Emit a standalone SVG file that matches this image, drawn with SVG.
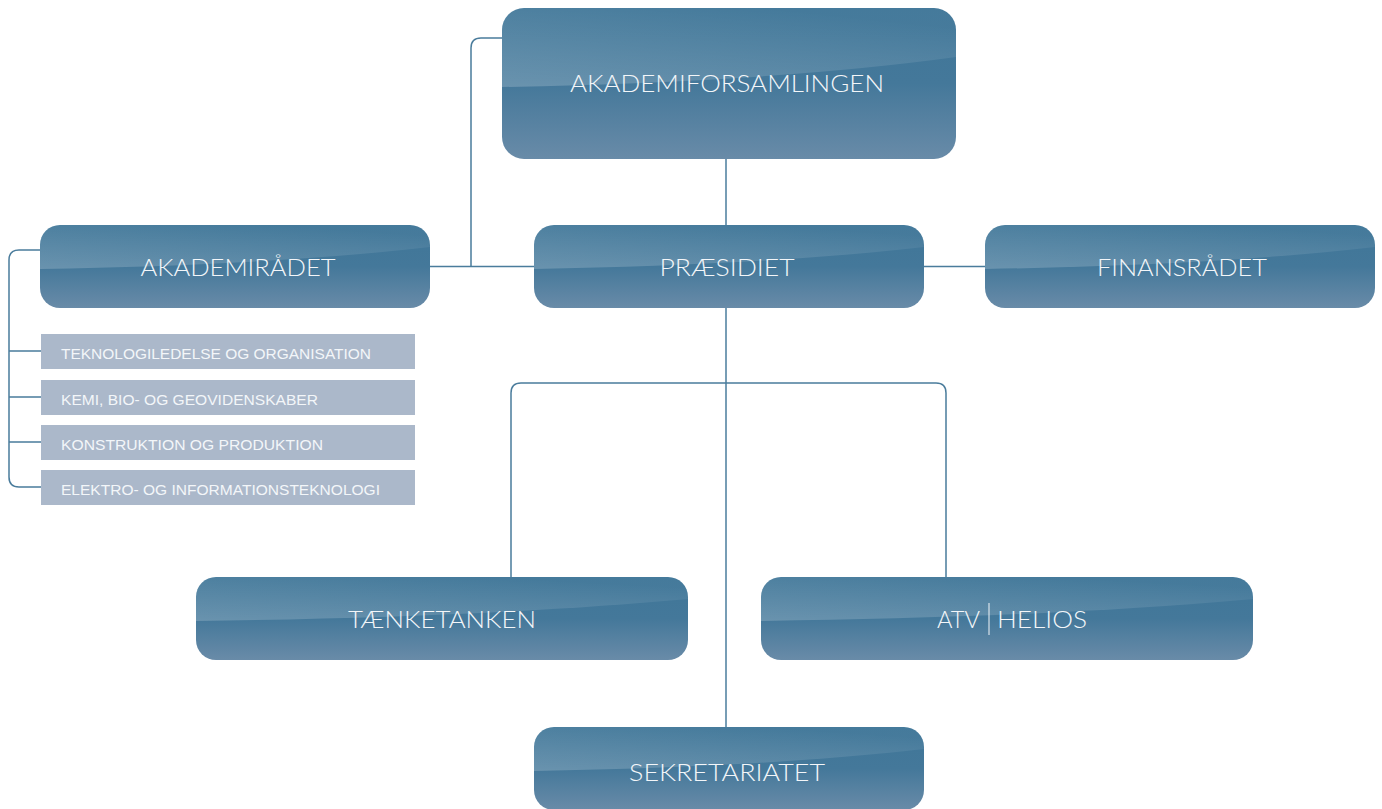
<svg xmlns="http://www.w3.org/2000/svg" width="1382" height="809" viewBox="0 0 1382 809">
<style>
.conn{fill:none;stroke:#4a7c9c;stroke-width:1.5}
.lbl{font-family:"Lato","Open Sans","Liberation Sans",sans-serif;font-weight:300;font-size:24px;fill:#f3f6f9;text-anchor:middle}
.sub{fill:#abb8ca}
.subt{font-family:"Liberation Sans","Arial",sans-serif;font-size:15px;fill:#f3f6f9}
</style>
<defs>
<linearGradient id="base" x1="0" y1="0" x2="0" y2="1">
<stop offset="0" stop-color="#3f7698"/>
<stop offset="0.5" stop-color="#44789a"/>
<stop offset="1" stop-color="#698ba8"/>
</linearGradient>
<linearGradient id="gloss" x1="0" y1="1" x2="0.6" y2="0">
<stop offset="0" stop-color="#ffffff" stop-opacity="0.2"/>
<stop offset="1" stop-color="#ffffff" stop-opacity="0.03"/>
</linearGradient>
<clipPath id="cA"><rect x="0" y="0" width="454" height="151" rx="22"/></clipPath>
<clipPath id="cB"><rect x="0" y="0" width="390" height="83" rx="20"/></clipPath>
<clipPath id="cC"><rect x="0" y="0" width="492" height="83" rx="20"/></clipPath>
<path id="gA" d="M0,0 H454 V49 Q272,74 0,79 Z"/>
<path id="gB" d="M0,0 H390 V22 Q234,40 0,44 Z"/>
<path id="gC" d="M0,0 H492 V22 Q295,40 0,44 Z"/>
</defs>

<g id="connectors">
<path class="conn" d="M502,38 H481 Q471,38 471,48 V266.5"/>
<path class="conn" d="M430,266.5 H534"/>
<path class="conn" d="M726,159 V225"/>
<path class="conn" d="M923,266.5 H985"/>
<path class="conn" d="M726,308 V728"/>
<path class="conn" d="M511,577 V393 Q511,383 521,383 H936 Q946,383 946,393 V577"/>
<path class="conn" d="M40,250 H19 Q9,250 9,260 V477 Q9,487 19,487 H41"/>
<path class="conn" d="M9,351 H41 M9,397 H41 M9,442 H41"/>
</g>

<g id="akademiforsamlingen" transform="translate(502,8)">
<rect width="454" height="151" rx="22" fill="url(#base)"/>
<use href="#gA" clip-path="url(#cA)" fill="url(#gloss)"/>
<text class="lbl" x="225" y="84" textLength="314" lengthAdjust="spacingAndGlyphs">AKADEMIFORSAMLINGEN</text>
</g>

<g id="akademiraadet" transform="translate(40,225)">
<rect width="390" height="83" rx="20" fill="url(#base)"/>
<use href="#gB" clip-path="url(#cB)" fill="url(#gloss)"/>
<text class="lbl" x="198" y="51" textLength="195" lengthAdjust="spacingAndGlyphs">AKADEMIRÅDET</text>
</g>

<g id="praesidiet" transform="translate(534,225)">
<rect width="390" height="83" rx="20" fill="url(#base)"/>
<use href="#gB" clip-path="url(#cB)" fill="url(#gloss)"/>
<text class="lbl" x="193" y="51" textLength="135" lengthAdjust="spacingAndGlyphs">PRÆSIDIET</text>
</g>

<g id="finansraadet" transform="translate(985,225)">
<rect width="390" height="83" rx="20" fill="url(#base)"/>
<use href="#gB" clip-path="url(#cB)" fill="url(#gloss)"/>
<text class="lbl" x="197" y="51" textLength="170" lengthAdjust="spacingAndGlyphs">FINANSRÅDET</text>
</g>

<g id="sub1">
<rect class="sub" x="41" y="334" width="374" height="35"/>
<text class="subt" x="61" y="359" textLength="310" lengthAdjust="spacingAndGlyphs">TEKNOLOGILEDELSE OG ORGANISATION</text>
</g>
<g id="sub2">
<rect class="sub" x="41" y="380" width="374" height="35"/>
<text class="subt" x="61" y="405" textLength="257" lengthAdjust="spacingAndGlyphs">KEMI, BIO- OG GEOVIDENSKABER</text>
</g>
<g id="sub3">
<rect class="sub" x="41" y="425" width="374" height="35"/>
<text class="subt" x="61" y="450" textLength="262" lengthAdjust="spacingAndGlyphs">KONSTRUKTION OG PRODUKTION</text>
</g>
<g id="sub4">
<rect class="sub" x="41" y="470" width="374" height="35"/>
<text class="subt" x="61" y="495" textLength="319" lengthAdjust="spacingAndGlyphs">ELEKTRO- OG INFORMATIONSTEKNOLOGI</text>
</g>

<g id="taenketanken" transform="translate(196,577)">
<rect width="492" height="83" rx="20" fill="url(#base)"/>
<use href="#gC" clip-path="url(#cC)" fill="url(#gloss)"/>
<text class="lbl" x="246" y="51" textLength="188" lengthAdjust="spacingAndGlyphs">TÆNKETANKEN</text>
</g>

<g id="atvhelios" transform="translate(761,577)">
<rect width="492" height="83" rx="20" fill="url(#base)"/>
<use href="#gC" clip-path="url(#cC)" fill="url(#gloss)"/>
<text class="lbl" x="197.5" y="51" textLength="43" lengthAdjust="spacingAndGlyphs">ATV</text>
<line x1="228" y1="26" x2="228" y2="58" stroke="#f3f6f9" stroke-width="1"/>
<text class="lbl" x="281" y="51" textLength="90" lengthAdjust="spacingAndGlyphs">HELIOS</text>
</g>

<g id="sekretariatet" transform="translate(534,727)">
<rect width="390" height="83" rx="20" fill="url(#base)"/>
<use href="#gB" clip-path="url(#cB)" fill="url(#gloss)"/>
<text class="lbl" x="193" y="54" textLength="196" lengthAdjust="spacingAndGlyphs">SEKRETARIATET</text>
</g>
</svg>
